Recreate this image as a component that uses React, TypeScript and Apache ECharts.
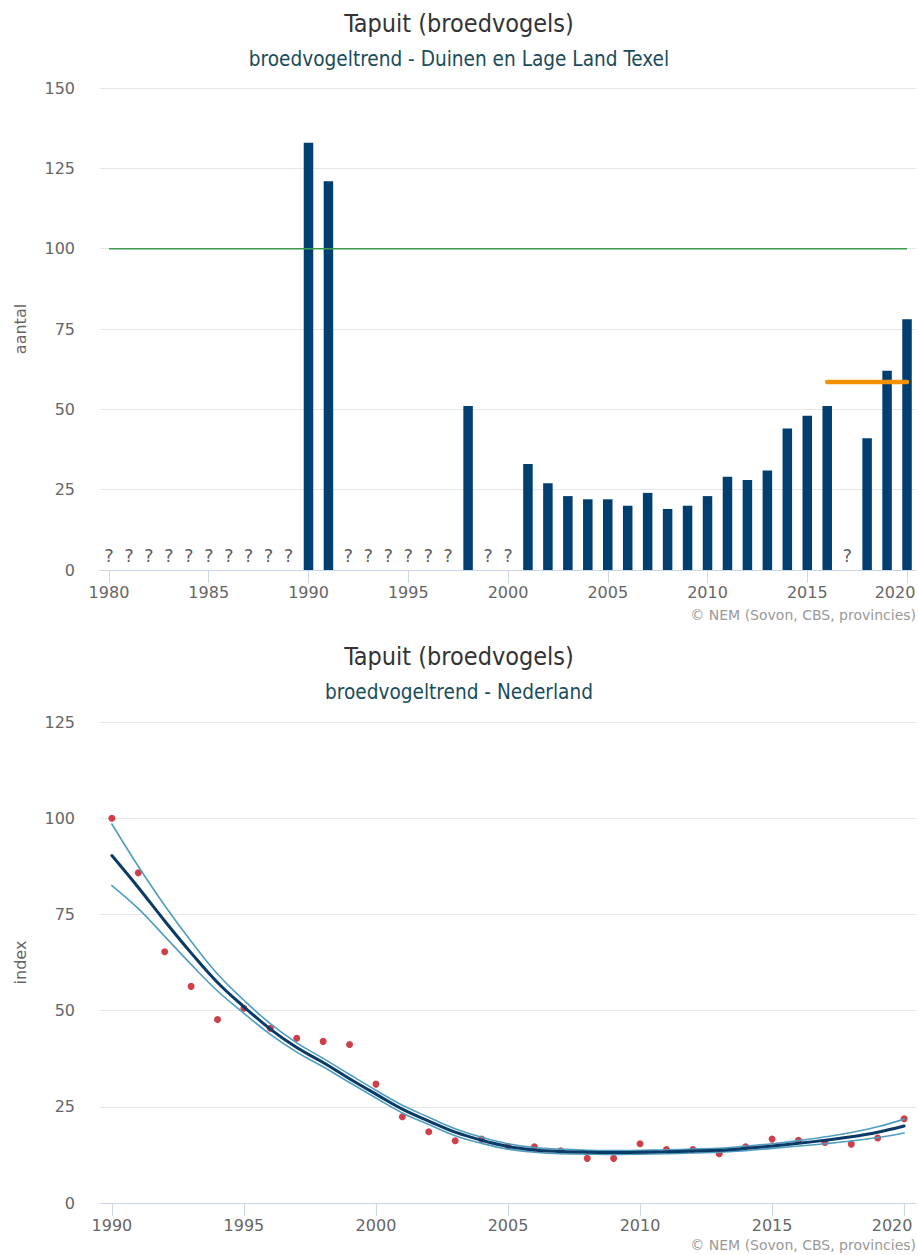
import React, { useEffect, useRef } from "react";
import * as echarts from "echarts";

// Texel: counted breeding pairs per year
const barYears = [1990, 1991, 1998, 2001, 2002, 2003, 2004, 2005, 2006, 2007, 2008, 2009, 2010, 2011, 2012, 2013, 2014, 2015, 2016, 2018, 2019, 2020];
const barCounts = [133, 121, 51, 33, 27, 23, 22, 22, 20, 24, 19, 20, 23, 29, 28, 31, 44, 48, 51, 41, 62, 78];
// years without a count
const unknownYears = [1980, 1981, 1982, 1983, 1984, 1985, 1986, 1987, 1988, 1989, 1992, 1993, 1994, 1995, 1996, 1997, 1999, 2000, 2017];
const referenceLevel = 100;
const referenceYears = [1980, 2020];
const recentMean = 58.5;
const recentYears = [2016, 2020];
const topTickYears = [1980, 1985, 1990, 1995, 2000, 2005, 2010, 2015, 2020];

// Nederland: index trend
const nlYears = [1990, 1991, 1992, 1993, 1994, 1995, 1996, 1997, 1998, 1999, 2000, 2001, 2002, 2003, 2004, 2005, 2006, 2007, 2008, 2009, 2010, 2011, 2012, 2013, 2014, 2015, 2016, 2017, 2018, 2019, 2020];
const nlIndex = [100, 85.8, 65.3, 56.3, 47.7, 50.6, 45.4, 42.8, 42.0, 41.2, 30.9, 22.4, 18.5, 16.2, 16.6, 14.7, 14.6, 13.6, 11.6, 11.6, 15.4, 13.9, 13.9, 12.8, 14.6, 16.6, 16.3, 15.7, 15.3, 16.9, 21.9];
const nlTrend = [90.3, 82.0, 73.3, 65.0, 57.3, 51.0, 45.2, 40.4, 36.5, 32.3, 28.3, 24.4, 21.3, 18.4, 16.3, 14.7, 13.8, 13.4, 13.2, 13.1, 13.2, 13.3, 13.5, 13.7, 14.2, 14.8, 15.5, 16.3, 17.2, 18.4, 20.0];
const nlUpper = [98.5, 87.5, 77.3, 68.0, 59.5, 52.7, 46.6, 41.6, 37.6, 33.4, 29.3, 25.4, 22.3, 19.3, 17.1, 15.4, 14.4, 14.0, 13.7, 13.6, 13.7, 13.8, 14.0, 14.2, 14.8, 15.4, 16.2, 17.2, 18.3, 19.8, 21.8];
const nlLower = [82.5, 76.5, 69.3, 62.0, 55.1, 49.3, 43.8, 39.2, 35.4, 31.3, 27.3, 23.4, 20.4, 17.5, 15.5, 14.0, 13.2, 12.8, 12.7, 12.6, 12.7, 12.8, 13.0, 13.2, 13.6, 14.2, 14.8, 15.4, 16.1, 17.0, 18.2];
const bottomTickYears = [1990, 1995, 2000, 2005, 2010, 2015, 2020];

const FONT = "DejaVu Sans";
const TITLE_FONT = "'DejaVu Sans Condensed', 'DejaVu Sans'";
const AXIS_COLOR = "#ccd6eb";
const GRID_COLOR = "#e6e6e6";
const LABEL_COLOR = "#666666";
const NAVY = "#003f6f";

function xAxisFor(gridIndex: number, min: number, max: number, ticks: number[]) {
  const lastTick = ticks[ticks.length - 1];
  return {
    type: "value",
    gridIndex,
    min,
    max,
    axisLine: { show: true, onZero: false, lineStyle: { color: AXIS_COLOR, width: 1 } },
    axisTick: { show: true, customValues: ticks, length: 13, lineStyle: { color: AXIS_COLOR } },
    axisLabel: {
      customValues: ticks,
      // the last label is nudged left so it stays inside the chart
      formatter: (v: number) => {
        const s = String(Math.round(v));
        return Math.round(v) === lastTick ? `{edge|${s}}` : s;
      },
      rich: {
        edge: { color: LABEL_COLOR, fontSize: 16, fontFamily: FONT, padding: [0, 24, 0, 0] },
      },
      color: LABEL_COLOR,
      fontSize: 16,
      margin: 14,
      fontFamily: FONT,
    },
    splitLine: { show: false },
  };
}

function yAxisFor(gridIndex: number, max: number, name: string) {
  return {
    type: "value",
    gridIndex,
    min: 0,
    max,
    interval: 25,
    name,
    nameLocation: "middle",
    nameGap: 72,
    nameTextStyle: { color: LABEL_COLOR, fontSize: 16, fontFamily: FONT },
    axisLine: { show: false },
    axisTick: { show: false },
    axisLabel: { color: LABEL_COLOR, fontSize: 16, margin: 25, fontFamily: FONT },
    splitLine: { lineStyle: { color: GRID_COLOR, width: 1 } },
  };
}

export default function App() {
  const ref = useRef<HTMLDivElement>(null);

  useEffect(() => {
    if (!ref.current) return;
    const chart = echarts.init(ref.current, undefined, { renderer: "svg" });

    const titleStyle = { color: "#333333", fontSize: 25, fontWeight: "normal", fontFamily: TITLE_FONT };
    const subStyle = { color: "#1b4c5a", fontSize: 20.6, fontWeight: "normal", fontFamily: TITLE_FONT };

    chart.setOption({
      animation: false,
      textStyle: { fontFamily: FONT },
      title: [
        { text: "Tapuit (broedvogels)", left: "center", top: 6, textStyle: titleStyle },
        { text: "broedvogeltrend - Duinen en Lage Land Texel", left: "center", top: 43, textStyle: subStyle },
        { text: "Tapuit (broedvogels)", left: "center", top: 639, textStyle: titleStyle },
        { text: "broedvogeltrend - Nederland", left: "center", top: 676, textStyle: subStyle },
      ],
      graphic: [
        { type: "text", right: 2, top: 608, style: { text: "© NEM (Sovon, CBS, provincies)", fill: "#999999", fontSize: 14, fontFamily: FONT } },
        { type: "text", right: 2, top: 1238, style: { text: "© NEM (Sovon, CBS, provincies)", fill: "#999999", fontSize: 14, fontFamily: FONT } },
      ],
      grid: [
        { left: 100, top: 88, width: 816, height: 482, containLabel: false, outerBoundsMode: "none" },
        { left: 100, top: 722, width: 816, height: 481, containLabel: false, outerBoundsMode: "none" },
      ],
      xAxis: [
        xAxisFor(0, 1979.55, 2020.45, topTickYears),
        xAxisFor(1, 1989.55, 2020.45, bottomTickYears),
      ],
      yAxis: [yAxisFor(0, 150, "aantal"), yAxisFor(1, 125, "index")],
      series: [
        {
          type: "bar",
          xAxisIndex: 0,
          yAxisIndex: 0,
          barWidth: 9.5,
          itemStyle: { color: NAVY },
          data: barYears.map((y, i) => [y, barCounts[i]]),
        },
        {
          type: "scatter",
          xAxisIndex: 0,
          yAxisIndex: 0,
          symbolSize: 2,
          itemStyle: { color: "rgba(0,0,0,0)" },
          label: {
            show: true,
            position: "top",
            distance: 5,
            formatter: "?",
            color: "#333333",
            fontSize: 18,
            fontFamily: FONT,
          },
          data: unknownYears.map((y) => [y, 0]),
        },
        {
          type: "line",
          xAxisIndex: 0,
          yAxisIndex: 0,
          symbol: "none",
          lineStyle: { color: "#3b9a4a", width: 1.5 },
          data: referenceYears.map((y) => [y, referenceLevel]),
        },
        {
          type: "line",
          xAxisIndex: 0,
          yAxisIndex: 0,
          symbol: "none",
          lineStyle: { color: "#f39200", width: 4.5, cap: "round" },
          data: recentYears.map((y) => [y, recentMean]),
        },
        {
          type: "scatter",
          xAxisIndex: 1,
          yAxisIndex: 1,
          symbolSize: 7,
          itemStyle: { color: "#c00f1c" },
          data: nlYears.map((y, i) => [y, nlIndex[i]]),
        },
        {
          type: "line",
          xAxisIndex: 1,
          yAxisIndex: 1,
          symbol: "none",
          smooth: 0.4,
          lineStyle: { color: "#4f9dbf", width: 1.6, cap: "round" },
          data: nlYears.map((y, i) => [y, nlUpper[i]]),
        },
        {
          type: "line",
          xAxisIndex: 1,
          yAxisIndex: 1,
          symbol: "none",
          smooth: 0.4,
          lineStyle: { color: "#4f9dbf", width: 1.6, cap: "round" },
          data: nlYears.map((y, i) => [y, nlLower[i]]),
        },
        {
          type: "line",
          xAxisIndex: 1,
          yAxisIndex: 1,
          symbol: "none",
          smooth: 0.4,
          lineStyle: { color: "#0a3a66", width: 3, cap: "round" },
          data: nlYears.map((y, i) => [y, nlTrend[i]]),
        },
      ],
    });

    return () => chart.dispose();
  }, []);

  return (
    <div
      ref={ref}
      style={{ position: "absolute", left: 0, top: 0, width: 918, height: 1255, background: "#ffffff" }}
    />
  );
}
